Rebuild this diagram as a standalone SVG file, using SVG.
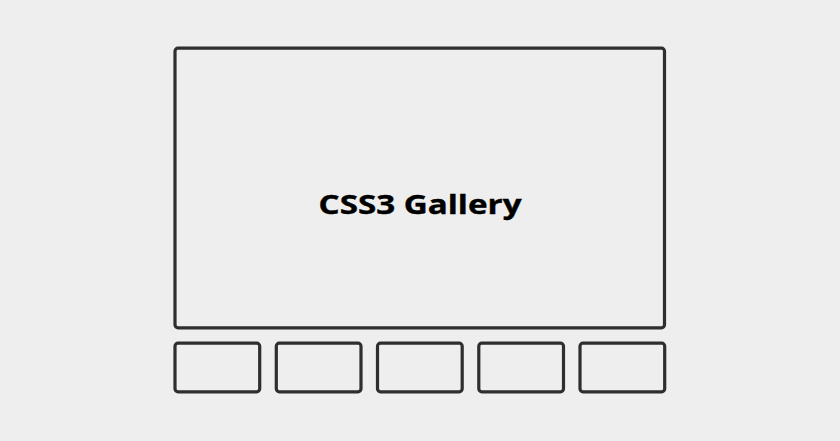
<svg xmlns="http://www.w3.org/2000/svg" width="840" height="441" viewBox="0 0 840 441">
<style>
.box{fill:none;stroke:#2e2e2e;stroke-width:3.2}
.lbl{font-family:"Open Sans","DejaVu Sans",sans-serif;font-weight:700;font-size:27px;fill:#000;stroke:#000;stroke-width:0.4;text-anchor:middle}
</style>
<rect width="840" height="441" fill="#eeeeee"/>
<g id="main">
<rect class="box" x="175" y="48.2" width="489.5" height="279.6" rx="3"/>
<text class="lbl" x="420" y="213.7" textLength="203" lengthAdjust="spacingAndGlyphs">CSS3 Gallery</text>
</g>
<g id="thumb1"><rect class="box" x="175" y="343.2" width="84.7" height="48.6" rx="3"/></g>
<g id="thumb2"><rect class="box" x="276.3" y="343.2" width="84.7" height="48.6" rx="3"/></g>
<g id="thumb3"><rect class="box" x="377.5" y="343.2" width="84.7" height="48.6" rx="3"/></g>
<g id="thumb4"><rect class="box" x="478.8" y="343.2" width="84.7" height="48.6" rx="3"/></g>
<g id="thumb5"><rect class="box" x="580" y="343.2" width="84.7" height="48.6" rx="3"/></g>
<g id="connectors"></g>
</svg>
